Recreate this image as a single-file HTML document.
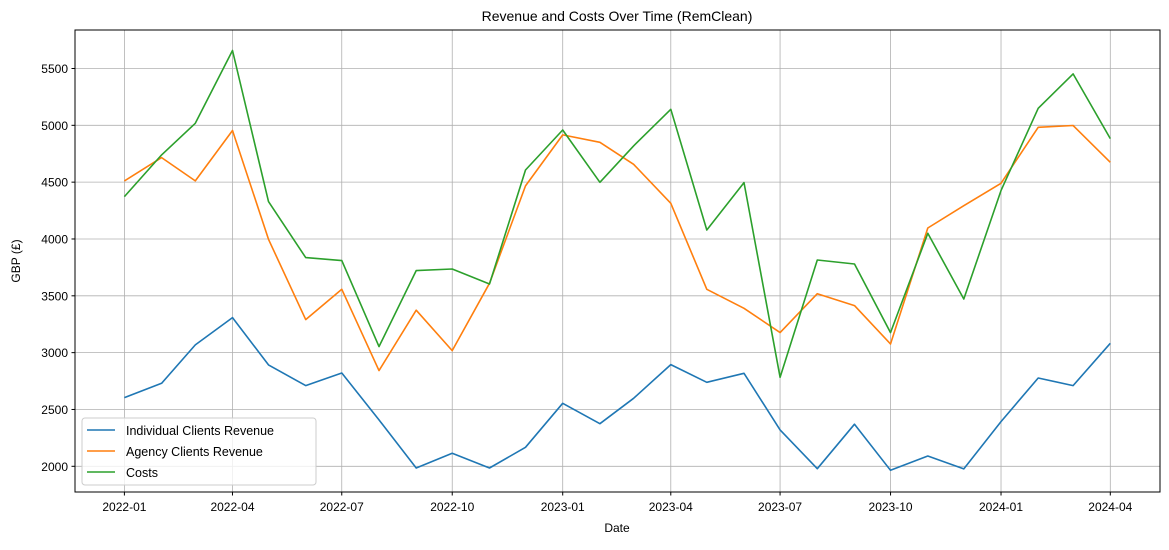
<!DOCTYPE html>
<html><head><meta charset="utf-8"><style>
body{margin:0;background:#fff;}
svg text{font-family:"Liberation Sans","DejaVu Sans",sans-serif;fill:#000;}
</style></head><body>
<svg id="chart" width="1169" height="545" xmlns="http://www.w3.org/2000/svg">
<rect width="1169" height="545" fill="#fff"/>
<g id="grid"></g>
<g id="series"></g>
<rect x="75" y="30" width="1085" height="462" fill="none" stroke="#000" stroke-width="1"/>
<g id="ticks"></g>
<text x="617" y="21" font-size="14" text-anchor="middle">Revenue and Costs Over Time (RemClean)</text>
<text x="617" y="532" font-size="12" text-anchor="middle">Date</text>
<text transform="translate(20,261) rotate(-90)" font-size="12" text-anchor="middle">GBP (£)</text>
<g>
<rect x="82" y="418" width="234" height="67" rx="3" fill="#fff" fill-opacity="0.8" stroke="#ccc"/>
<line x1="87" y1="430" x2="115" y2="430" stroke="#1f77b4" stroke-width="1.5"/>
<text x="126" y="435" font-size="12.5">Individual Clients Revenue</text>
<line x1="87" y1="451" x2="115" y2="451" stroke="#ff7f0e" stroke-width="1.5"/>
<text x="126" y="456" font-size="12.5">Agency Clients Revenue</text>
<line x1="87" y1="472" x2="115" y2="472" stroke="#2ca02c" stroke-width="1.5"/>
<text x="126" y="477" font-size="12.5">Costs</text>
</g>
</svg>
<script>
const months = ["2022-01","2022-02","2022-03","2022-04","2022-05","2022-06","2022-07","2022-08","2022-09","2022-10","2022-11","2022-12","2023-01","2023-02","2023-03","2023-04","2023-05","2023-06","2023-07","2023-08","2023-09","2023-10","2023-11","2023-12","2024-01","2024-02","2024-03","2024-04"];
const individual = [2604,2730,3068,3308,2892,2710,2821,2408,1985,2114,1985,2167,2554,2375,2598,2895,2739,2818,2320,1979,2370,1965,2091,1977,2393,2777,2710,3082];
const agency = [4511,4716,4511,4954,3997,3291,3557,2842,3373,3018,3610,4467,4916,4851,4657,4314,3557,3390,3176,3519,3414,3076,4097,4293,4490,4983,4998,4675];
const costs = [4373,4740,5018,5658,4329,3836,3810,3053,3722,3736,3604,4607,4959,4499,4819,5141,4079,4496,2783,3815,3780,3176,4050,3472,4426,5150,5452,4883];
const yTicks = [2000,2500,3000,3500,4000,4500,5000,5500];
const xTicks = ["2022-01","2022-04","2022-07","2022-10","2023-01","2023-04","2023-07","2023-10","2024-01","2024-04"];

const NS="http://www.w3.org/2000/svg";
const d0=Date.UTC(2022,0,1), d1=Date.UTC(2024,3,1);
function dt(s){const p=s.split("-");return Date.UTC(+p[0],+p[1]-1,1);}
function xS(s){return 124.4+(dt(s)-d0)/(d1-d0)*(1110.3-124.4);}
function yS(v){return 466.3-(v-2000)*(56.83/500);}
function mk(tag,attrs,parent){const e=document.createElementNS(NS,tag);for(const k in attrs)e.setAttribute(k,attrs[k]);parent.appendChild(e);return e;}
const grid=document.getElementById("grid"),ticks=document.getElementById("ticks"),ser=document.getElementById("series");
yTicks.forEach(v=>{const y=yS(v);
 const g=mk("line",{x1:75,x2:1160,y1:y,y2:y,stroke:"#b0b0b0","stroke-width":0.8},grid);
 
 
 mk("line",{x1:71.5,x2:75,y1:y,y2:y,stroke:"#000"},ticks);
 const t=mk("text",{x:68,y:y+4.5,"font-size":12,"text-anchor":"end"},ticks);t.textContent=v;
 
 
});
xTicks.forEach(s=>{const x=xS(s);
 const g=mk("line",{x1:x,x2:x,y1:30,y2:492,stroke:"#b0b0b0","stroke-width":0.8},grid);
 
 
 mk("line",{x1:x,x2:x,y1:492,y2:495.5,stroke:"#000"},ticks);
 const t=mk("text",{x:x,y:511,"font-size":12,"text-anchor":"middle"},ticks);t.textContent=s;
 
 
});
[[individual,"#1f77b4","individual-revenue-line"],[agency,"#ff7f0e","agency-revenue-line"],[costs,"#2ca02c","costs-line"]].forEach(([vals,c,n])=>{
 const pts=vals.map((v,i)=>xS(months[i]).toFixed(1)+","+yS(v).toFixed(1)).join(" ");
 const p=mk("polyline",{points:pts,fill:"none",stroke:c,"stroke-width":1.6,"stroke-linejoin":"round"},ser);
 
 
});
</script>
</body></html>
